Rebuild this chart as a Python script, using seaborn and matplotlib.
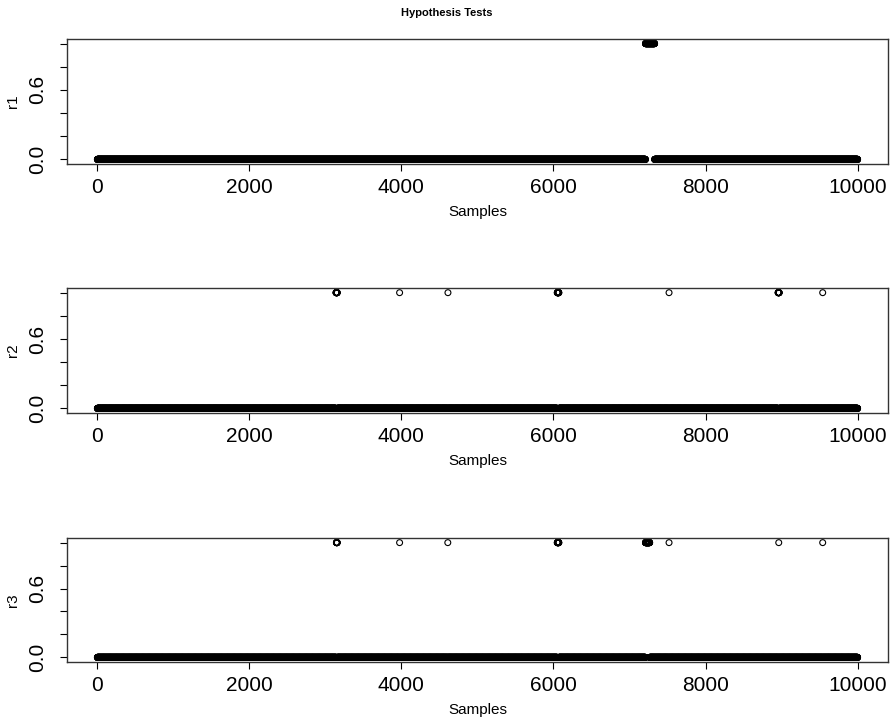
import numpy as np
import pandas as pd
import seaborn as sns
import matplotlib.pyplot as plt

sns.set_style("white")
plt.rcParams['font.family'] = ['Liberation Sans', 'DejaVu Sans']
plt.rcParams['text.color'] = 'black'
plt.rcParams['axes.labelcolor'] = 'black'
plt.rcParams['xtick.color'] = 'black'
plt.rcParams['ytick.color'] = 'black'

# number of samples and the spans (first, last sample) where each test returned 1
n_samples = 10000
r1_spans = [(7210, 7330)]
r2_spans = [(3140, 3155), (3976, 3976), (4612, 4612), (6050, 6070),
            (7520, 7520), (8955, 8968), (9541, 9541)]
r3_spans = [(3145, 3155), (3976, 3976), (4610, 4610), (6050, 6070),
            (7210, 7265), (7520, 7520), (8963, 8963), (9541, 9541)]
names = ["r1", "r2", "r3"]
x_ticks = [0, 2000, 4000, 6000, 8000, 10000]
y_ticks = [0.0, 0.2, 0.4, 0.6, 0.8, 1.0]
y_labels = ["0.0", "", "", "0.6", "", ""]


def series(spans):
    s = np.zeros(n_samples)
    for a, b in spans:
        s[a - 1:b] = 1
    return s


df = pd.DataFrame({"Samples": np.arange(1, n_samples + 1),
                   "r1": series(r1_spans),
                   "r2": series(r2_spans),
                   "r3": series(r3_spans)})

fig = plt.figure(figsize=(8.93, 7.19), dpi=100)
boxes = [(0.9458, 0.7719), (0.5994, 0.4256), (0.2517, 0.0793)]
left, right = 0.075, 0.9944

for name, (top, bottom) in zip(names, boxes):
    ax = fig.add_axes([left, bottom, right - left, top - bottom])
    sns.scatterplot(data=df, x="Samples", y=name, ax=ax, marker="o",
                    facecolors="none", edgecolor="black", linewidth=0.8, s=18)
    ax.set_xlim(-399, 10400)
    ax.set_ylim(-0.04, 1.04)
    ax.set_xticks(x_ticks)
    ax.set_xticklabels([str(t) for t in x_ticks], fontsize=15)
    ax.set_yticks(y_ticks)
    ax.set_yticklabels(y_labels, fontsize=15, rotation=90, va="center")
    ax.tick_params(axis="both", length=5, width=0.8, color="black",
                   direction="out", left=True, bottom=True)
    ax.tick_params(axis="x", pad=5)
    ax.tick_params(axis="y", pad=9)
    ax.set_xlabel("Samples", fontsize=11, labelpad=6)
    ax.set_ylabel(name, fontsize=11, labelpad=6)
    for sp in ax.spines.values():
        sp.set_color("#333333")
        sp.set_linewidth(1.0)

fig.text(0.5, 0.982, "Hypothesis Tests", ha="center", va="center",
         fontsize=8, fontweight="bold")

fig.savefig("out.png", dpi=100)
